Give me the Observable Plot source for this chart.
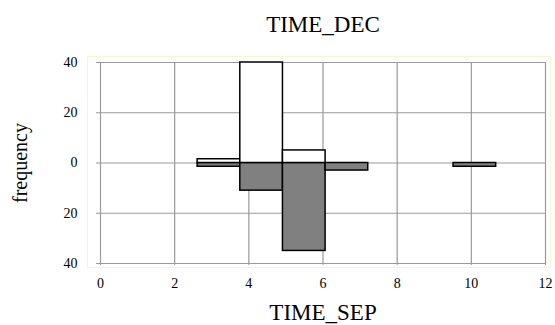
<!DOCTYPE html>
<html>
<head>
<meta charset="utf-8">
<script src="https://cdn.jsdelivr.net/npm/d3@7"></script>
<script src="https://cdn.jsdelivr.net/npm/@observablehq/plot@0.6"></script>
<style>
  html, body { margin: 0; padding: 0; background: #fff; }
  #chart svg { display: block; }
  #chart svg text { font-family: 'Liberation Serif', 'Times New Roman', serif; }
</style>
</head>
<body>
<div id="chart"></div>
<script>
// Histogram bins (TIME_SEP class limits)
const binStart = [2.62, 3.77, 4.92, 6.07, 7.22, 8.37, 9.52];
const binEnd   = [3.77, 4.92, 6.07, 7.22, 8.37, 9.52, 10.67];
// Frequencies
const timeDec = [1.5, 40, 5, 0, 0, 0, 0];   // upper (white) bars
const timeSep = [1.5, 11, 35, 3, 0, 0, 1.5]; // lower (gray) bars
// Tick values
const xTicks = [0, 2, 4, 6, 8, 10, 12];
const yTicks = [-40, -20, 0, 20, 40];

const decData = binStart.map((s, i) => ({x1: s, x2: binEnd[i], y: timeDec[i]}));
const sepData = binStart.map((s, i) => ({x1: s, x2: binEnd[i], y: -timeSep[i]}));

const font = "'Liberation Serif', 'Times New Roman', serif";

const chart = Plot.plot({
  width: 555,
  height: 325,
  marginLeft: 100,
  marginRight: 10,
  marginTop: 62,
  marginBottom: 62,
  style: {fontFamily: font, fontSize: "14px", color: "#000", background: "#fff"},
  x: {domain: [0, 12]},
  y: {domain: [-40, 40]},
  marks: [
    Plot.frame({stroke: "#f6f6d2", insetLeft: -13, insetRight: -5, insetTop: -6, insetBottom: -4}),
    Plot.gridX(xTicks, {stroke: "#9a9a9a", strokeOpacity: 1, strokeWidth: 1.2}),
    Plot.gridY(yTicks, {stroke: "#9a9a9a", strokeOpacity: 1, strokeWidth: 1.2}),
    Plot.axisX(xTicks, {tickSize: 2, tickPadding: 13, stroke: "#9a9a9a", fill: "#000", fontSize: 14, fontFamily: font, label: null, tickFormat: d => d}),
    Plot.axisY(yTicks, {tickSize: 4, tickPadding: 19, stroke: "#9a9a9a", fill: "#000", fontSize: 14, fontFamily: font, label: null, tickFormat: d => Math.abs(d)}),
    Plot.rectY(sepData, {x1: "x1", x2: "x2", y1: 0, y2: "y", fill: "#808080", stroke: "#000", strokeWidth: 1.5}),
    Plot.rectY(decData, {x1: "x1", x2: "x2", y1: 0, y2: "y", fill: "#fff", stroke: "#000", strokeWidth: 1.5}),
    Plot.text(["TIME_DEC"], {frameAnchor: "top", lineAnchor: "bottom", dy: -31, fontSize: 23, fill: "#000", fontFamily: font}),
    Plot.text(["TIME_SEP"], {frameAnchor: "bottom", lineAnchor: "bottom", dy: 56, fontSize: 23, fill: "#000", fontFamily: font}),
    Plot.text(["frequency"], {frameAnchor: "left", textAnchor: "middle", lineAnchor: "middle", rotate: -90, dx: -80, fontSize: 20, fill: "#000", fontFamily: font})
  ]
});
document.getElementById("chart").appendChild(chart);
</script>
</body>
</html>
